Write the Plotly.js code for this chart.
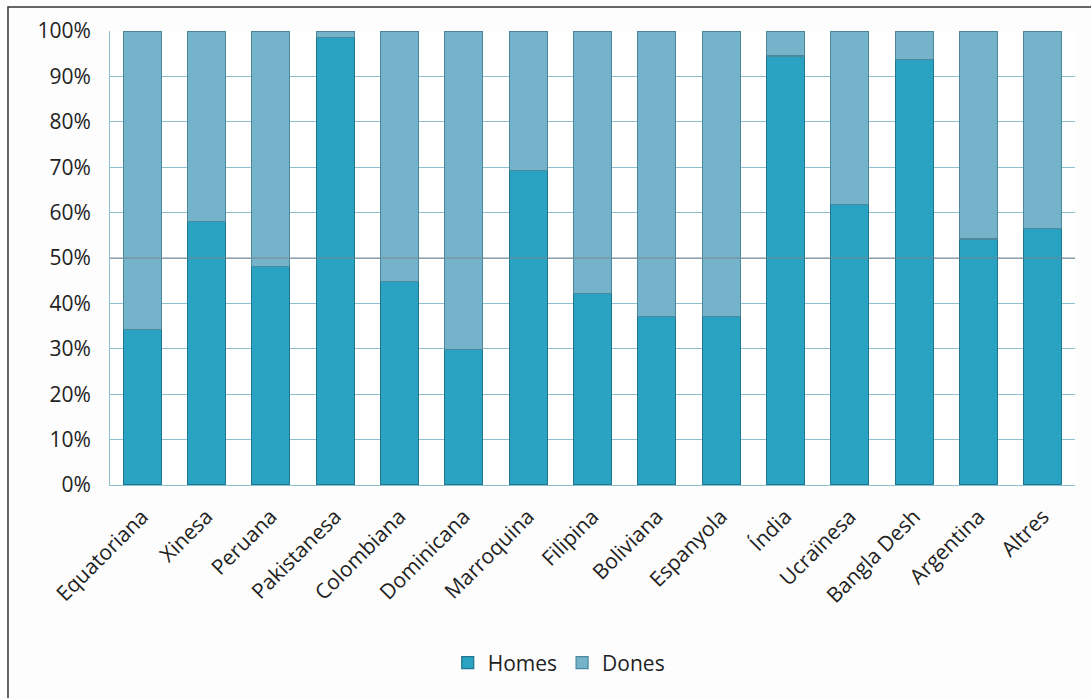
<!DOCTYPE html>
<html>
<head>
<meta charset="utf-8">
<script src="https://cdn.plot.ly/plotly-3.0.1.min.js"></script>
<style>html,body{margin:0;padding:0;background:#fdfdfe;}#chart{width:1091px;height:698px;}</style>
</head>
<body>
<div id="chart"></div>
<script>
const categories = ["Equatoriana","Xinesa","Peruana","Pakistanesa","Colombiana","Dominicana","Marroquina","Filipina","Boliviana","Espanyola","Índia","Ucraïnesa","Bangla Desh","Argentina","Altres"];
const homes = [34.3, 58.0, 48.1, 98.6, 44.8, 29.9, 69.2, 42.2, 37.1, 37.1, 94.5, 61.8, 93.8, 54.2, 56.5];
const dones = homes.map(v => +(100 - v).toFixed(1));
const yTickVals = [0,10,20,30,40,50,60,70,80,90,100];
const yTickText = yTickVals.map(v => v + "%");

const font = {family: "Open Sans, DejaVu Sans, sans-serif", size: 21, color: "#222"};

const traces = [
  {type: "bar", name: "Homes", x: categories, y: homes,
   marker: {color: "#2aa3c2", line: {color: "#21758c", width: 1.2}}, width: 0.59},
  {type: "bar", name: "Dones", x: categories, y: dones,
   marker: {color: "#74b3c9", line: {color: "#4c889c", width: 1.2}}, width: 0.59}
];

const layout = {
  width: 1091, height: 698,
  margin: {l: 110, r: 16, t: 31, b: 213},
  paper_bgcolor: "#fdfdfe", plot_bgcolor: "#ffffff",
  barmode: "stack",
  font: font,
  showlegend: true,
  legend: {orientation: "h", x: 0.465, xanchor: "center", y: -0.392, yanchor: "middle",
           traceorder: "normal", font: font, itemwidth: 30},
  xaxis: {tickangle: -45, tickfont: font, showgrid: false, showline: true,
          linecolor: "#8dbfcf", linewidth: 1, ticks: "", automargin: false,
          ticklabelstandoff: 10},
  yaxis: {range: [0, 100], tickvals: yTickVals, ticktext: yTickText, tickfont: font,
          showgrid: true, gridcolor: "#8dbfcf", gridwidth: 1, zeroline: false,
          showline: true, linecolor: "#8dbfcf", linewidth: 1, ticks: "", ticklen: 0,
          automargin: false, ticklabelstandoff: 14},
  shapes: [
    {type: "line", xref: "paper", yref: "y", x0: 0, x1: 1, y0: 50, y1: 50,
     line: {color: "rgba(120,130,140,0.6)", width: 1.5}, layer: "above"},
    {type: "rect", xref: "paper", yref: "paper", x0: -0.1057, x1: 1.2, y0: -0.8, y1: 1.0529,
     line: {color: "#333", width: 1.5}, fillcolor: "rgba(0,0,0,0)", layer: "below"}
  ]
};

Plotly.newPlot("chart", traces, layout, {displayModeBar: false, staticPlot: true});
</script>
</body>
</html>
